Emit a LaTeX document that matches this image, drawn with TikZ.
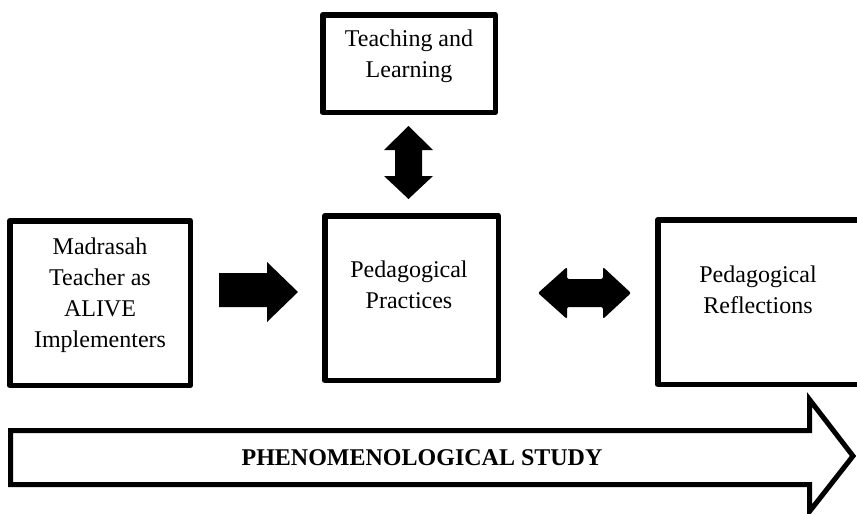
\documentclass[tikz,border=0pt]{standalone}
\usepackage{fontspec}
\setmainfont{Liberation Serif}

\begin{document}
\begin{tikzpicture}[x=1pt,y=-1pt,
    box/.style={
      rectangle,
      draw,
      line width=5.5pt,
      line join=round,
      inner sep=0pt
    },
    boxtext/.style={
      align=center,
      font=\fontsize{24}{31}\selectfont
    },
    blockarrow/.style={fill=black, line join=round}]
  \useasboundingbox (0,0) rectangle (857,514);

  % frames
  \node[box,minimum width=172.5pt,minimum height=97.5pt] (T) at (409,63.5) {};
  \node[box,minimum width=180.5pt,minimum height=164.5pt] (M) at (100,303) {};
  \node[box,minimum width=173.5pt,minimum height=164.5pt] (P) at (411.5,298) {};
  \node[box,minimum width=201.5pt,minimum height=164.5pt] (R) at (758.5,302) {};

  % texts
  \node[boxtext] (Ttext) at (409,56) {Teaching and\\Learning};
  \node[boxtext] (Mtext) at (100,295) {Madrasah\\Teacher as\\ALIVE\\Implementers};
  \node[boxtext] (Ptext) at (409,285) {Pedagogical\\Practices};
  \node[boxtext] (Rtext) at (758,290) {Pedagogical\\Reflections};

  % block arrows
  \fill[blockarrow] (219,273) -- (267,273) -- (267,262) -- (298,292)
    -- (267,322) -- (267,307) -- (219,307) -- cycle;
  \fill[blockarrow,rounded corners=2pt] (538,293) -- (567,267) -- (567,279)
    -- (603,279) -- (603,267) -- (631,293) -- (603,319) -- (603,307)
    -- (567,307) -- (567,319) -- cycle;
  \fill[blockarrow] (408.5,126) -- (433,150) -- (422,150) -- (422,176)
    -- (433,176) -- (408.5,199) -- (384,176) -- (395,176) -- (395,150)
    -- (384,150) -- cycle;

  % study arrow
  \draw[line width=5pt] (10.5,430.5) -- (809.5,430.5) -- (809.5,399.5)
    -- (853,456) -- (809.5,511.5) -- (809.5,484.5) -- (10.5,484.5) -- cycle;
  \node[font=\fontsize{24}{31}\selectfont\bfseries] (study) at (422,458)
    {PHENOMENOLOGICAL STUDY};
\end{tikzpicture}
\end{document}
